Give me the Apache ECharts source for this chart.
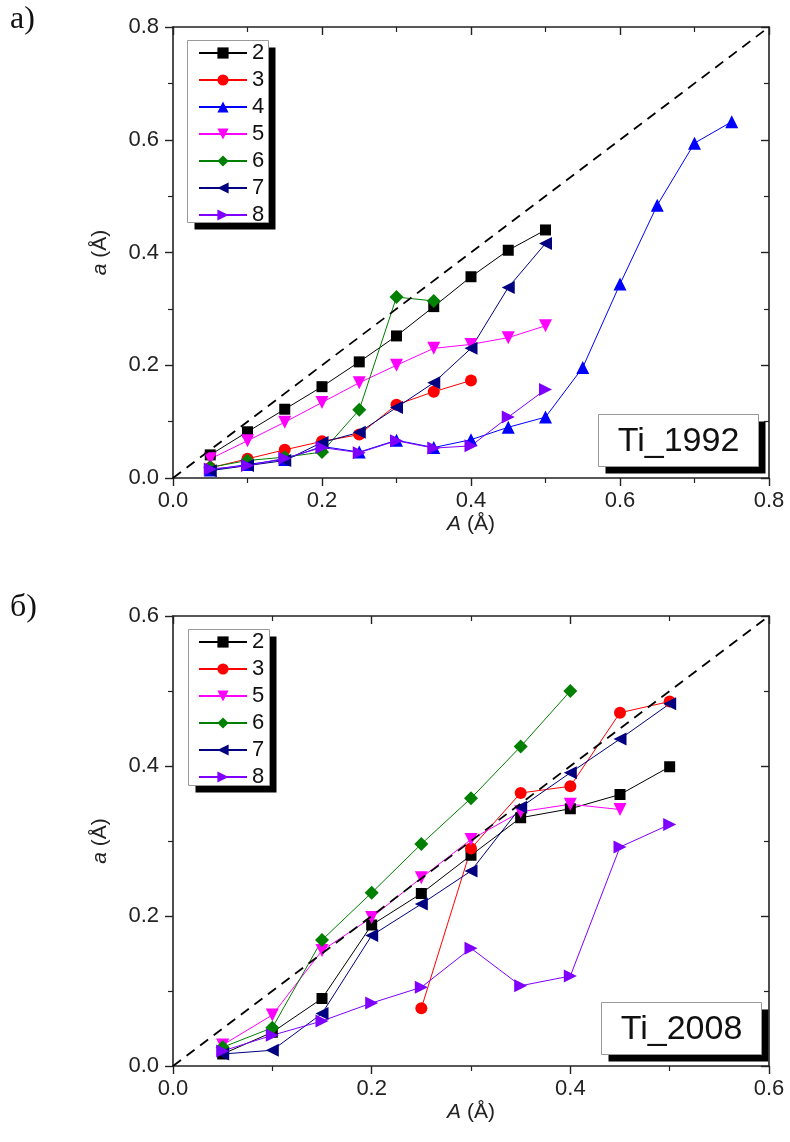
<!DOCTYPE html>
<html>
<head>
<meta charset="utf-8">
<script src="https://cdn.jsdelivr.net/npm/echarts@6/dist/echarts.min.js"></script>
<style>
  html, body { margin: 0; padding: 0; background: #fff; }
  #main { width: 790px; height: 1142px; }
</style>
</head>
<body>
<div id="main"></div>
<script>
  // x values (A, Å)
  var xsTop = [0.05, 0.1, 0.15, 0.2, 0.25, 0.3, 0.35, 0.4, 0.45, 0.5, 0.55, 0.6, 0.65, 0.7, 0.75];
  var xsBot = [0.05, 0.1, 0.15, 0.2, 0.25, 0.3, 0.35, 0.4, 0.45, 0.5];

  // panel a) Ti_1992
  var top2 = [0.041, 0.082, 0.122, 0.162, 0.206, 0.252, 0.304, 0.357, 0.404, 0.44];
  var top3 = [0.018, 0.034, 0.05, 0.065, 0.077, 0.13, 0.153, 0.173];
  var top4 = [0.014, 0.024, 0.033, 0.056, 0.046, 0.067, 0.054, 0.068, 0.09, 0.108, 0.196, 0.344, 0.484, 0.594, 0.632];
  var top5 = [0.034, 0.066, 0.099, 0.134, 0.169, 0.2, 0.23, 0.237, 0.249, 0.27];
  var top6 = [0.019, 0.031, 0.037, 0.046, 0.121, 0.321, 0.314];
  var top7 = [0.013, 0.022, 0.031, 0.063, 0.081, 0.125, 0.169, 0.23, 0.338, 0.416];
  var top8 = [0.016, 0.022, 0.035, 0.054, 0.045, 0.066, 0.053, 0.057, 0.108, 0.157];

  // panel б) Ti_2008
  var bot2 = [0.016, 0.045, 0.09, 0.188, 0.23, 0.281, 0.331, 0.343, 0.362, 0.399];
  var bot3x = [0.25, 0.3, 0.35, 0.4, 0.45, 0.5];
  var bot3 = [0.077, 0.29, 0.364, 0.373, 0.471, 0.486];
  var bot5 = [0.028, 0.068, 0.154, 0.198, 0.251, 0.302, 0.339, 0.349, 0.342];
  var bot6 = [0.025, 0.051, 0.168, 0.231, 0.296, 0.357, 0.426, 0.5];
  var bot7 = [0.016, 0.021, 0.07, 0.174, 0.216, 0.26, 0.345, 0.391, 0.436, 0.483];
  var bot8 = [0.02, 0.041, 0.06, 0.084, 0.105, 0.157, 0.107, 0.12, 0.292, 0.322];

  var namesTop = ['2', '3', '4', '5', '6', '7', '8'];
  var namesBot = ['2', '3', '5', '6', '7', '8'];

  var sty = {
    '2': { color: '#000000', symbol: 'rect', size: 11, rot: 0 },
    '3': { color: '#ff0000', symbol: 'circle', size: 12, rot: 0 },
    '4': { color: '#0000ff', symbol: 'triangle', size: 13, rot: 0 },
    '5': { color: '#ff00ff', symbol: 'triangle', size: 13, rot: 180 },
    '6': { color: '#008000', symbol: 'diamond', size: 14, rot: 0 },
    '7': { color: '#000080', symbol: 'triangle', size: 13, rot: 90 },
    '8': { color: '#7f00ff', symbol: 'triangle', size: 13, rot: -90 }
  };

  function pairs(xs, ys) {
    var out = [];
    for (var i = 0; i < ys.length; i++) out.push([xs[i], ys[i]]);
    return out;
  }

  function mk(name, xs, ys, ax) {
    var s = sty[name];
    return {
      name: name, type: 'line', xAxisIndex: ax, yAxisIndex: ax,
      data: pairs(xs, ys),
      symbol: s.symbol, symbolSize: s.size, symbolRotate: s.rot,
      itemStyle: { color: s.color },
      lineStyle: { color: s.color, width: 1 },
      animation: false, z: 3
    };
  }

  function diag(ax, m) {
    return {
      type: 'line', xAxisIndex: ax, yAxisIndex: ax, data: [[0, 0], [m, m]],
      symbol: 'none', silent: true, animation: false, z: 4,
      lineStyle: { color: '#000', width: 1.8, type: [10, 7] }
    };
  }

  var axisFont = { fontFamily: 'Liberation Sans', fontSize: 22, color: '#222' };
  var titleRich = { i: { fontStyle: 'italic', fontFamily: 'Liberation Sans', fontSize: 21, color: '#222' } };

  function xAx(grid, max, isTop) {
    return {
      type: 'value', gridIndex: grid, min: 0, max: max, interval: 0.2,
      position: isTop ? 'top' : 'bottom',
      name: isTop ? '' : '{i|A} (Å)', nameLocation: 'middle', nameGap: 36,
      nameTextStyle: { fontFamily: 'Liberation Sans', fontSize: 21, color: '#222', rich: titleRich },
      axisLine: { show: true, onZero: false, lineStyle: { color: '#222', width: 1.6 } },
      axisTick: { show: true, inside: isTop, length: 8, lineStyle: { color: '#222', width: 1.4 } },
      minorTick: { show: true, splitNumber: 2, length: 5, lineStyle: { color: '#222', width: 1.2 } },
      axisLabel: Object.assign({ show: !isTop, margin: 12, formatter: function (v) { return v.toFixed(1); } }, axisFont),
      splitLine: { show: false }
    };
  }

  function yAx(grid, max, isRight) {
    return {
      type: 'value', gridIndex: grid, min: 0, max: max, interval: 0.2,
      position: isRight ? 'right' : 'left',
      name: isRight ? '' : '{i|a} (Å)', nameLocation: 'middle', nameGap: 62, nameRotate: 90,
      nameTextStyle: { fontFamily: 'Liberation Sans', fontSize: 21, color: '#222', rich: titleRich },
      axisLine: { show: true, onZero: false, lineStyle: { color: '#222', width: 1.6 } },
      axisTick: { show: true, inside: isRight, length: 8, lineStyle: { color: '#222', width: 1.4 } },
      minorTick: { show: true, splitNumber: 2, length: 5, lineStyle: { color: '#222', width: 1.2 } },
      axisLabel: Object.assign({ show: !isRight, margin: 14, formatter: function (v) { return v.toFixed(1); } }, axisFont),
      splitLine: { show: false }
    };
  }

  function legendAt(top, names) {
    return {
      data: names, orient: 'vertical', left: 187, top: top,
      itemWidth: 48, itemHeight: 14, itemGap: 5,
      padding: [2, 5, 2, 11],
      textStyle: { fontFamily: 'Liberation Sans', fontSize: 22, lineHeight: 21, color: '#111' },
      selectedMode: false
    };
  }

  // white box with grey border and solid black drop shadow
  function shadowBox(x, y, w, h) {
    return {
      type: 'group', left: x, top: y, z: 1,
      children: [
        { type: 'rect', shape: { x: 7, y: 7, width: w, height: h }, style: { fill: '#000' } },
        { type: 'rect', shape: { x: 0, y: 0, width: w, height: h }, style: { fill: '#fff', stroke: '#999', lineWidth: 1 } }
      ]
    };
  }

  function labelBox(x, y, text) {
    return {
      type: 'group', left: x, top: y, z: 1,
      children: [
        { type: 'rect', shape: { x: 7, y: 7, width: 160, height: 52 }, style: { fill: '#000' } },
        { type: 'rect', shape: { x: 0, y: 0, width: 160, height: 52 }, style: { fill: '#fff', stroke: '#999', lineWidth: 1 } },
        { type: 'text', x: 80, y: 27,
          style: { text: text, fill: '#111', font: '34px "Liberation Sans"', align: 'center', verticalAlign: 'middle' } }
      ]
    };
  }

  var chart = echarts.init(document.getElementById('main'));

  var series = [
    mk('2', xsTop, top2, 0), mk('3', xsTop, top3, 0), mk('4', xsTop, top4, 0),
    mk('5', xsTop, top5, 0), mk('6', xsTop, top6, 0), mk('7', xsTop, top7, 0),
    mk('8', xsTop, top8, 0), diag(0, 0.8),
    mk('2', xsBot, bot2, 2), mk('3', bot3x, bot3, 2),
    mk('5', xsBot, bot5, 2), mk('6', xsBot, bot6, 2), mk('7', xsBot, bot7, 2),
    mk('8', xsBot, bot8, 2), diag(2, 0.6)
  ];

  var option = {
    backgroundColor: '#fff',
    animation: false,
    grid: [
      { left: 173, top: 27, width: 596, height: 451 },
      { left: 173, top: 616, width: 596, height: 450 }
    ],
    xAxis: [xAx(0, 0.8, false), xAx(0, 0.8, true), xAx(1, 0.6, false), xAx(1, 0.6, true)],
    yAxis: [yAx(0, 0.8, false), yAx(0, 0.8, true), yAx(1, 0.6, false), yAx(1, 0.6, true)],
    legend: [legendAt(40, namesTop), legendAt(629, namesBot)],
    graphic: [
      { type: 'text', left: 10, top: 4, style: { text: 'а)', font: '32px "Liberation Serif"', fill: '#111' } },
      { type: 'text', left: 10, top: 592, style: { text: 'б)', font: '32px "Liberation Serif"', fill: '#111' } },
      shadowBox(187, 40, 81, 182),
      shadowBox(188, 629, 81, 156),
      labelBox(598, 414, 'Ti_1992'),
      labelBox(601, 1002, 'Ti_2008')
    ],
    series: series
  };

  chart.setOption(option);
</script>
</body>
</html>
